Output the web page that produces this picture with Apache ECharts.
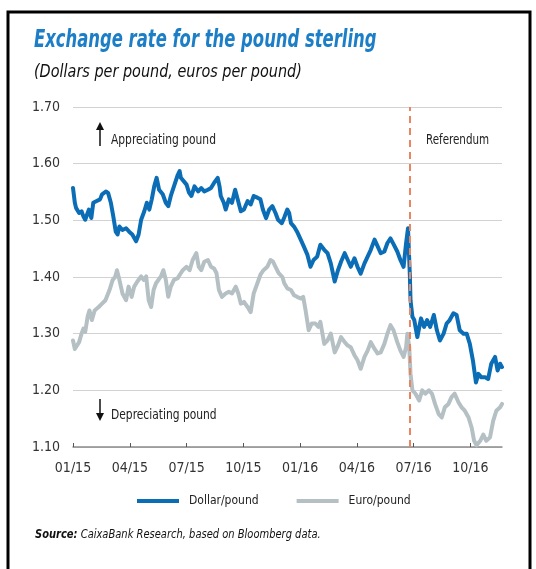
<!DOCTYPE html>
<html>
<head>
<meta charset="utf-8">
<script src="https://cdn.jsdelivr.net/npm/echarts@6/dist/echarts.min.js"></script>
<style>
  html, body { margin: 0; padding: 0; background: #fff; }
  #chart { width: 536px; height: 569px; }
</style>
</head>
<body>
<div id="chart"></div>
<script>
// Day offsets are counted from 1 January 2015.
const usdDays = [0,3,5,8,10,14,17,20,24,26,30,33,38,43,46,52,55,59,63,67,70,73,78,84,89,94,100,104,108,113,117,121,125,129,133,137,143,148,152,156,161,167,170,172,175,181,185,189,194,200,205,210,216,221,226,232,235,237,242,245,250,255,260,264,269,274,280,285,290,296,301,305,310,315,320,325,329,335,339,344,347,350,355,360,366,371,377,382,387,393,398,404,409,414,420,425,430,436,441,446,452,457,462,468,473,478,484,489,494,500,505,510,515,521,526,531,535,538,541,542,545,548,553,559,564,569,574,580,585,590,596,601,606,612,617,622,628,633,638,643,648,652,657,663,668,673,679,683,687,690];
const usdValues = [1.557,1.531,1.522,1.519,1.513,1.516,1.507,1.501,1.513,1.519,1.504,1.531,1.534,1.537,1.546,1.551,1.548,1.531,1.507,1.480,1.475,1.489,1.483,1.486,1.480,1.475,1.463,1.475,1.501,1.516,1.531,1.519,1.537,1.560,1.575,1.554,1.546,1.531,1.525,1.543,1.560,1.580,1.587,1.575,1.572,1.563,1.549,1.543,1.560,1.551,1.557,1.551,1.554,1.557,1.566,1.575,1.560,1.543,1.531,1.519,1.537,1.531,1.554,1.537,1.516,1.519,1.534,1.528,1.543,1.540,1.537,1.519,1.504,1.519,1.525,1.513,1.501,1.495,1.505,1.519,1.513,1.495,1.489,1.480,1.466,1.454,1.439,1.418,1.430,1.436,1.457,1.448,1.442,1.424,1.392,1.412,1.427,1.442,1.430,1.418,1.433,1.418,1.406,1.424,1.436,1.448,1.466,1.454,1.442,1.445,1.460,1.468,1.458,1.445,1.430,1.418,1.460,1.486,1.401,1.359,1.330,1.324,1.294,1.327,1.312,1.324,1.312,1.333,1.306,1.288,1.300,1.318,1.324,1.336,1.333,1.306,1.300,1.300,1.282,1.253,1.214,1.229,1.223,1.223,1.220,1.247,1.259,1.235,1.247,1.241];

const eurDays = [0,3,6,10,14,17,20,24,27,31,35,41,46,51,57,62,66,69,73,78,84,88,93,97,102,108,112,116,120,124,128,132,135,140,144,148,152,156,161,167,172,175,181,186,191,197,201,205,210,216,221,226,230,234,239,245,250,255,261,265,269,274,280,285,290,296,301,306,312,317,321,325,330,336,339,344,350,355,360,366,370,374,379,384,390,395,398,404,409,414,420,425,430,436,441,446,452,457,462,468,473,478,484,489,494,500,505,510,515,521,526,531,535,537,540,542,545,550,556,561,566,572,577,582,588,593,598,604,609,614,620,625,630,636,641,645,649,655,660,665,671,676,681,687,690];
const eurValues = [1.288,1.273,1.276,1.285,1.300,1.309,1.303,1.330,1.341,1.324,1.341,1.347,1.353,1.359,1.377,1.395,1.400,1.412,1.395,1.371,1.359,1.383,1.365,1.383,1.392,1.401,1.395,1.401,1.359,1.347,1.377,1.389,1.386,1.401,1.412,1.395,1.365,1.383,1.395,1.398,1.407,1.412,1.418,1.412,1.430,1.442,1.418,1.412,1.427,1.430,1.418,1.415,1.407,1.377,1.365,1.371,1.374,1.371,1.383,1.371,1.353,1.356,1.347,1.338,1.371,1.389,1.404,1.412,1.418,1.430,1.427,1.418,1.407,1.400,1.389,1.380,1.377,1.368,1.365,1.362,1.365,1.341,1.306,1.318,1.318,1.312,1.321,1.282,1.288,1.300,1.267,1.279,1.294,1.285,1.279,1.276,1.262,1.253,1.238,1.259,1.270,1.285,1.273,1.265,1.267,1.282,1.300,1.315,1.306,1.285,1.270,1.259,1.276,1.300,1.276,1.229,1.200,1.194,1.182,1.200,1.194,1.200,1.194,1.176,1.158,1.152,1.170,1.176,1.188,1.194,1.179,1.170,1.164,1.152,1.134,1.111,1.103,1.111,1.122,1.111,1.117,1.146,1.164,1.170,1.176];

const xTickLabels = ['01/15','04/15','07/15','10/15','01/16','04/16','07/16','10/16'];
const yTickLabels = ['1.10','1.20','1.30','1.40','1.50','1.60','1.70'];
const axisEndDay = 690;
const referendumDay = 540;   // 24 June 2016

const seriesNames = ['Dollar/pound', 'Euro/pound'];
const colors = { usd: '#0b6db5', eur: '#b5c0c4', ref: '#ea8560' };
const font = "'Liberation Sans Narrow', 'DejaVu Sans Condensed', 'Liberation Sans', sans-serif";

// Convert a day offset into a fractional month index (0 = Jan 2015).
function monthIndex(day) {
  const t = new Date(Date.UTC(2015, 0, 1) + day * 86400000);
  const y = t.getUTCFullYear(), m = t.getUTCMonth(), d = t.getUTCDate();
  const dim = new Date(Date.UTC(y, m + 1, 0)).getUTCDate();
  return (y - 2015) * 12 + m + (d - 1) / dim;
}
const pairs = (days, vals) => days.map((d, i) => [monthIndex(d), vals[i]]);

// Horizontally condensed text element anchored at its top-left corner.
function label(x, y, text, fontSpec, sx, fill, extra) {
  return Object.assign({
    type: 'text', x: x, y: y, scaleX: sx, scaleY: 1,
    style: Object.assign({ text: text, fill: fill || '#222', font: fontSpec, verticalAlign: 'middle' }, extra || {})
  });
}

const chart = echarts.init(document.getElementById('chart'), null, { renderer: 'canvas' });

chart.setOption({
  animation: false,
  backgroundColor: '#fff',
  textStyle: { fontFamily: font },
  grid: { left: 73, right: 34, top: 107, bottom: 122 },
  xAxis: {
    type: 'value',
    min: 0,
    max: monthIndex(axisEndDay),
    interval: 3,
    axisLine: { show: true, lineStyle: { color: '#8c8c8c', width: 1.5 } },
    axisTick: { show: true, inside: true, length: 4, lineStyle: { color: '#555' } },
    splitLine: { show: false },
    axisLabel: {
      margin: 14, fontSize: 14, color: '#333', fontFamily: font,
      showMaxLabel: false,
      formatter: v => xTickLabels[Math.round(v / 3)] || ''
    }
  },
  yAxis: {
    type: 'value',
    min: 1.1,
    max: 1.7,
    interval: 0.1,
    axisLine: { show: false },
    axisTick: { show: false },
    splitLine: { lineStyle: { color: '#d2d2d2', width: 1 } },
    axisLabel: {
      margin: 13, fontSize: 14, color: '#333', fontFamily: font,
      formatter: v => yTickLabels[Math.round((v - 1.1) / 0.1)]
    }
  },
  legend: {
    left: 132, top: 490,
    itemWidth: 42, itemHeight: 4, itemGap: 38,
    icon: 'rect',
    textStyle: { fontSize: 12, color: '#222', fontFamily: font, padding: [0, 0, 0, 5] },
    data: [seriesNames[0], seriesNames[1]]
  },
  series: [
    {
      name: seriesNames[1],
      type: 'line',
      data: pairs(eurDays, eurValues),
      showSymbol: false,
      color: colors.eur,
      lineStyle: { width: 4, color: colors.eur, join: 'round', cap: 'round' },
      z: 2
    },
    {
      name: seriesNames[0],
      type: 'line',
      data: pairs(usdDays, usdValues),
      showSymbol: false,
      color: colors.usd,
      lineStyle: { width: 4, color: colors.usd, join: 'round', cap: 'round' },
      z: 3,
      markLine: {
        silent: true,
        symbol: 'none',
        label: { show: false },
        lineStyle: { color: colors.ref, type: [7, 5], width: 2 },
        data: [{ xAxis: monthIndex(referendumDay) }]
      }
    }
  ],
  graphic: [
    // frame
    { type: 'polyline', shape: { points: [[8, 569], [8, 12], [530, 12], [530, 569]] },
      style: { stroke: '#000', lineWidth: 3, fill: null } },
    label(34, 40, 'Exchange rate for the pound sterling', 'italic bold 25px ' + font, 0.73, '#1b7ec6'),
    label(34, 72, '(Dollars per pound, euros per pound)', 'italic 18px ' + font, 0.89, '#111'),
    // appreciating arrow + label
    { type: 'line', shape: { x1: 100, y1: 126, x2: 100, y2: 146 }, style: { stroke: '#111', lineWidth: 1.5 } },
    { type: 'polygon', shape: { points: [[96, 130], [100, 122], [104, 130]] }, style: { fill: '#111' } },
    label(111, 140, 'Appreciating pound', '14px ' + font, 0.85),
    // depreciating arrow + label
    { type: 'line', shape: { x1: 100, y1: 399, x2: 100, y2: 418 }, style: { stroke: '#111', lineWidth: 1.5 } },
    { type: 'polygon', shape: { points: [[96, 413], [100, 421], [104, 413]] }, style: { fill: '#111' } },
    label(111, 415, 'Depreciating pound', '14px ' + font, 0.85),
    label(426, 140, 'Referendum', '14px ' + font, 0.82),
    label(35, 535, '{b|Source:} {n|CaixaBank Research, based on Bloomberg data.}', '12px ' + font, 0.92, '#111', {
      rich: {
        b: { font: 'italic bold 12px ' + font, fill: '#111' },
        n: { font: 'italic 12px ' + font, fill: '#111' }
      }
    })
  ]
});
</script>
</body>
</html>
